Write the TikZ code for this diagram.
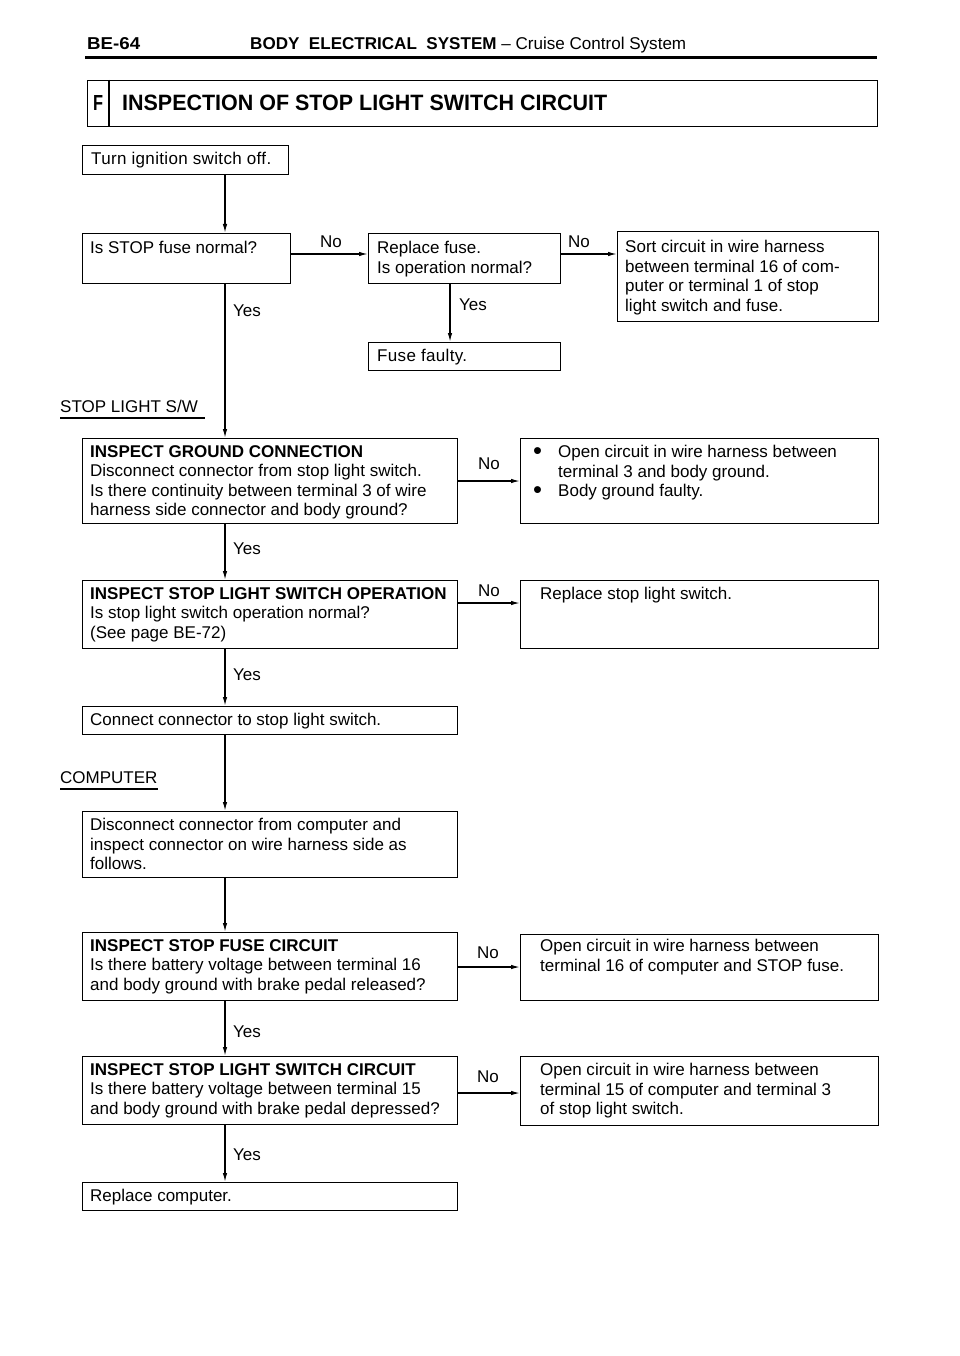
\documentclass[tikz,border=0pt]{standalone}
\usepackage{fontspec}
\setmainfont{Liberation Sans}
\usetikzlibrary{arrows.meta}
\newcommand{\bul}{\makebox[25pt][l]{\raisebox{-2.2pt}{\scalebox{1.5}{\textbullet}}}}
\begin{document}
\begin{tikzpicture}[x=1pt,y=-1pt,
  box/.style={draw, line width=1.3pt, rectangle, inner sep=0pt, anchor=north west},
  txt/.style={anchor=north west, inner sep=0pt, align=left, font=\fontsize{17}{19.5}\selectfont},
  arr/.style={line width=1.3pt, -{Latex[length=9pt,width=4.5pt]}},
  ln/.style={line width=1.3pt}]
\useasboundingbox (0,0) rectangle (960,1356);
% header
\node[anchor=base west, inner sep=0pt] (pg) at (87,50) {\resizebox{53pt}{12pt}{\bfseries BE-64}};
\node[anchor=base west, inner sep=0pt] (hd) at (250,50) {\resizebox{436pt}{!}{\fontsize{16}{19}\selectfont\textbf{BODY\ \ ELECTRICAL\ \ SYSTEM} -- Cruise Control System}};
\draw[line width=3pt] (85,58) -- (877,58);
% title
\node[box, minimum width=790pt, minimum height=46pt] (tb) at (87,80) {};
\draw[ln] ([xshift=22pt]tb.north west) -- ([xshift=22pt]tb.south west);
\node[anchor=base, inner sep=0pt] (tf) at (98,111) {\resizebox{10pt}{15pt}{\bfseries F}};
\node[anchor=base west, inner sep=0pt] (tt) at (122,111) {\resizebox{485pt}{15.5pt}{\bfseries INSPECTION OF STOP LIGHT SWITCH CIRCUIT}};
\coordinate (sp) at (225,0);
% boxes
\node[box, minimum width=206pt, minimum height=29pt] (b0) at (82,145) {};
\node[txt] (t0) at (91,152) {\addfontfeatures{LetterSpace=2}Turn ignition switch off.};
\node[box, minimum width=208pt, minimum height=50pt] (b1) at (82,233) {};
\node[txt] (t1) at (90,241) {Is STOP fuse normal?};
\node[box, minimum width=192pt, minimum height=50pt] (b2) at (368,233) {};
\node[txt] (t2) at (377,241) {Replace fuse.\\Is operation normal?};
\node[box, minimum width=261pt, minimum height=90pt] (b3) at (617,231) {};
\node[txt] (t3) at (625,240) {Sort circuit in wire harness\\between terminal 16 of com-\\puter or terminal 1 of stop\\light switch and fuse.};
\node[box, minimum width=192pt, minimum height=28pt] (b4) at (368,342) {};
\node[txt] (t4) at (377,349) {\addfontfeatures{LetterSpace=2}Fuse faulty.};
\node[txt] (sw) at (60,400) {STOP LIGHT S/W};
\draw[ln] (60,418) -- (205,418);
\node[box, minimum width=375pt, minimum height=85pt] (b5) at (82,438) {};
\node[txt] (t5) at (90,445) {\textbf{INSPECT GROUND CONNECTION}\\Disconnect connector from stop light switch.\\Is there continuity between terminal 3 of wire\\harness side connector and body ground?};
\node[box, minimum width=358pt, minimum height=85pt] (b6) at (520,438) {};
\node[txt] (t6) at (533,445) {\bul Open circuit in wire harness between\\\hspace*{25pt}terminal 3 and body ground.\\\bul Body ground faulty.};
\node[box, minimum width=375pt, minimum height=68pt] (b7) at (82,580) {};
\node[txt] (t7) at (90,587) {\textbf{INSPECT STOP LIGHT SWITCH OPERATION}\\Is stop light switch operation normal?\\(See page BE-72)};
\node[box, minimum width=358pt, minimum height=68pt] (b8) at (520,580) {};
\node[txt] (t8) at (540,587) {Replace stop light switch.};
\node[box, minimum width=375pt, minimum height=28pt] (b9) at (82,706) {};
\node[txt] (t9) at (90,713) {Connect connector to stop light switch.};
\node[txt] (cp) at (60,771) {COMPUTER};
\draw[ln] (60,789) -- (158,789);
\node[box, minimum width=375pt, minimum height=66pt] (b10) at (82,811) {};
\node[txt] (t10) at (90,818) {Disconnect connector from computer and\\inspect connector on wire harness side as\\follows.};
\node[box, minimum width=375pt, minimum height=68pt] (b11) at (82,932) {};
\node[txt] (t11) at (90,939) {\textbf{INSPECT STOP FUSE CIRCUIT}\\Is there battery voltage between terminal 16\\and body ground with brake pedal released?};
\node[box, minimum width=358pt, minimum height=66pt] (b12) at (520,934) {};
\node[txt] (t12) at (540,939) {Open circuit in wire harness between\\terminal 16 of computer and STOP fuse.};
\node[box, minimum width=375pt, minimum height=68pt] (b13) at (82,1056) {};
\node[txt] (t13) at (90,1063) {\textbf{INSPECT STOP LIGHT SWITCH CIRCUIT}\\Is there battery voltage between terminal 15\\and body ground with brake pedal depressed?};
\node[box, minimum width=358pt, minimum height=69pt] (b14) at (520,1056) {};
\node[txt] (t14) at (540,1063) {Open circuit in wire harness between\\terminal 15 of computer and terminal 3\\of stop light switch.};
\node[box, minimum width=375pt, minimum height=28pt] (b15) at (82,1182) {};
\node[txt] (t15) at (90,1189) {Replace computer.};
% horizontal rows
\coordinate (r1) at (0,254);
\coordinate (r2) at (0,481);
\coordinate (r3) at (0,603);
\coordinate (r4) at (0,967);
\coordinate (r5) at (0,1093);
\coordinate (sp2) at (450,0);
% connectors
\draw[arr] (b0.south -| sp) -- (b1.north -| sp);
\draw[arr] (b1.east |- r1) -- (b2.west |- r1);
\node[txt] (n1) at (320,236) {No};
\draw[arr] (b2.east |- r1) -- (b3.west |- r1);
\node[txt] (n2) at (568,236) {No};
\draw[arr] (b2.south -| sp2) -- (b4.north -| sp2);
\node[txt] (y0) at (459,299) {Yes};
\draw[arr] (b1.south -| sp) -- (b5.north -| sp);
\node[txt] (y1) at (233,305) {Yes};
\draw[arr] (b5.east |- r2) -- (b6.west |- r2);
\node[txt] (n3) at (478,458) {No};
\draw[arr] (b5.south -| sp) -- (b7.north -| sp);
\node[txt] (y2) at (233,543) {Yes};
\draw[arr] (b7.east |- r3) -- (b8.west |- r3);
\node[txt] (n4) at (478,585) {No};
\draw[arr] (b7.south -| sp) -- (b9.north -| sp);
\node[txt] (y3) at (233,669) {Yes};
\draw[arr] (b9.south -| sp) -- (b10.north -| sp);
\draw[arr] (b10.south -| sp) -- (b11.north -| sp);
\draw[arr] (b11.east |- r4) -- (b12.west |- r4);
\node[txt] (n5) at (477,947) {No};
\draw[arr] (b11.south -| sp) -- (b13.north -| sp);
\node[txt] (y4) at (233,1026) {Yes};
\draw[arr] (b13.east |- r5) -- (b14.west |- r5);
\node[txt] (n6) at (477,1071) {No};
\draw[arr] (b13.south -| sp) -- (b15.north -| sp);
\node[txt] (y5) at (233,1149) {Yes};
\end{tikzpicture}
\end{document}
